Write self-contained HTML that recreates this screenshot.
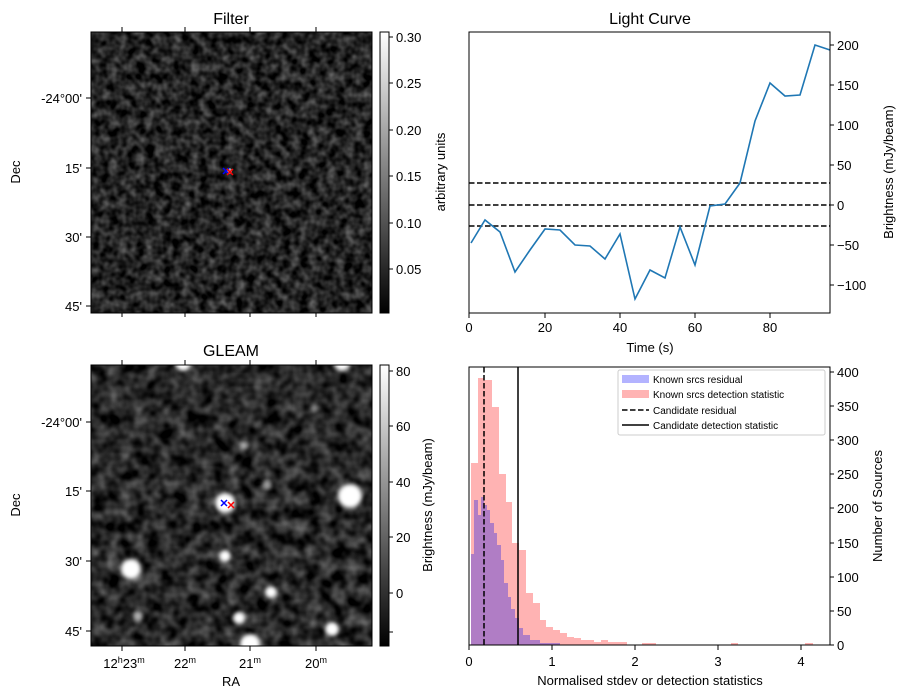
<!DOCTYPE html>
<html><head><meta charset="utf-8"><style>
html,body{margin:0;padding:0;background:#fff;width:907px;height:699px;overflow:hidden}
text{font-family:"Liberation Sans","DejaVu Sans",sans-serif;font-size:13px;fill:#000}
</style></head><body>
<svg width="907" height="699" viewBox="0 0 907 699" xmlns="http://www.w3.org/2000/svg">
<defs>
<filter id="noise1" x="0" y="0" width="100%" height="100%" color-interpolation-filters="sRGB">
<feTurbulence type="fractalNoise" baseFrequency="0.11" numOctaves="2" seed="3"/>
<feColorMatrix type="matrix" values="0.62 0 0 0 -0.17  0.62 0 0 0 -0.17  0.62 0 0 0 -0.17  0 0 0 0 1"/>
</filter>
<filter id="noise2" x="0" y="0" width="100%" height="100%" color-interpolation-filters="sRGB">
<feTurbulence type="fractalNoise" baseFrequency="0.075" numOctaves="2" seed="7"/>
<feColorMatrix type="matrix" values="0.65 0 0 0 -0.17  0.65 0 0 0 -0.17  0.65 0 0 0 -0.17  0 0 0 0 1"/>
</filter>
<filter id="blur"><feGaussianBlur stdDeviation="2"/></filter>
<linearGradient id="cb" x1="0" y1="1" x2="0" y2="0"><stop offset="0" stop-color="#000"/><stop offset="1" stop-color="#fff"/></linearGradient>
<clipPath id="c1"><rect x="91" y="32" width="281" height="281"/></clipPath>
<clipPath id="c2"><rect x="91" y="365" width="281" height="281"/></clipPath>
</defs>

<!-- Filter panel -->
<text x="231" y="24" text-anchor="middle" style="font-size:16px">Filter</text>
<g clip-path="url(#c1)">
<rect x="91" y="32" width="281" height="281" fill="#222"/>
<rect x="91" y="32" width="281" height="281" filter="url(#noise1)"/>
</g>
<rect x="91" y="32" width="281" height="281" fill="none" stroke="#000"/>
<circle cx="229" cy="171" r="3" fill="#aaa"/>
<g stroke-width="1.5"><path d="M223 168l6 6M229 168l-6 6" stroke="#00f"/><path d="M227 169l6 6M233 169l-6 6" stroke="#f00"/></g>
<g stroke="#000"><path d="M86 98h5M86 168h5M86 237h5M86 306h5M122 32v-5M185 32v-5M250 32v-5M316 32v-5M122 313v4M185 313v4M250 313v4M316 313v4"/></g>
<g text-anchor="end"><text x="82" y="103">-24°00'</text><text x="82" y="173">15'</text><text x="82" y="242">30'</text><text x="82" y="311">45'</text></g>
<text transform="translate(20,172) rotate(-90)" text-anchor="middle">Dec</text>
<rect x="380" y="32" width="9" height="281" fill="url(#cb)" stroke="#000"/>
<g stroke="#000"><path d="M389 37h4M389 83h4M389 130h4M389 176h4M389 223h4M389 269h4"/></g>
<g><text x="396" y="42">0.30</text><text x="396" y="88">0.25</text><text x="396" y="135">0.20</text><text x="396" y="181">0.15</text><text x="396" y="228">0.10</text><text x="396" y="274">0.05</text></g>
<text transform="translate(445,172) rotate(-90)" text-anchor="middle">arbitrary units</text>

<!-- GLEAM panel -->
<text x="231" y="356" text-anchor="middle" style="font-size:16px">GLEAM</text>
<g clip-path="url(#c2)">
<rect x="91" y="365" width="281" height="281" fill="#222"/>
<rect x="91" y="365" width="281" height="281" filter="url(#noise2)"/>
<g fill="#fff" filter="url(#blur)">
<circle cx="225" cy="503" r="10"/><circle cx="350" cy="496" r="12"/><circle cx="131" cy="569" r="10"/>
<circle cx="225" cy="556" r="6"/><circle cx="271" cy="592" r="6"/><circle cx="239" cy="618" r="6"/>
<circle cx="332" cy="629" r="7"/><circle cx="250" cy="644" r="10"/><circle cx="183" cy="363" r="8"/>
<circle cx="342" cy="363" r="8"/><circle cx="138" cy="617" r="5" opacity="0.6"/><circle cx="267" cy="485" r="5" opacity="0.6"/>
<circle cx="314" cy="408" r="4" opacity="0.5"/><circle cx="244" cy="446" r="4" opacity="0.5"/>
</g>
</g>
<rect x="91" y="365" width="281" height="281" fill="none" stroke="#000"/>
<g stroke-width="1.5"><path d="M221 500l6 6M227 500l-6 6" stroke="#00f"/><path d="M228 502l6 6M234 502l-6 6" stroke="#f00"/></g>
<g stroke="#000"><path d="M86 422h5M86 491h5M86 561h5M86 631h5M122 646v5M185 646v5M250 646v5M316 646v5M122 365v-5M185 365v-5M250 365v-5M316 365v-5"/></g>
<g text-anchor="end"><text x="82" y="427">-24°00'</text><text x="82" y="496">15'</text><text x="82" y="566">30'</text><text x="82" y="636">45'</text></g>
<text transform="translate(20,505) rotate(-90)" text-anchor="middle">Dec</text>
<g text-anchor="middle"><text x="124" y="668">12<tspan dy="-5" style="font-size:9px">h</tspan><tspan dy="5">23</tspan><tspan dy="-5" style="font-size:9px">m</tspan></text>
<text x="185" y="668">22<tspan dy="-5" style="font-size:9px">m</tspan></text><text x="250" y="668">21<tspan dy="-5" style="font-size:9px">m</tspan></text><text x="316" y="668">20<tspan dy="-5" style="font-size:9px">m</tspan></text></g>
<text x="231" y="686" text-anchor="middle">RA</text>
<rect x="380" y="365" width="9" height="281" fill="url(#cb)" stroke="#000"/>
<g stroke="#000"><path d="M389 371h4M389 426h4M389 482h4M389 537h4M389 593h4M389 632h4"/></g>
<g><text x="396" y="376">80</text><text x="396" y="431">60</text><text x="396" y="487">40</text><text x="396" y="542">20</text><text x="396" y="598">0</text></g>
<text transform="translate(432,505) rotate(-90)" text-anchor="middle">Brightness (mJy/beam)</text>

<!-- Light curve -->
<text x="650" y="24" text-anchor="middle" style="font-size:16px">Light Curve</text>
<g stroke="#000" stroke-width="1.5" stroke-dasharray="5.5,2.5"><path d="M469 183H830M469 205H830M469 226H830"/></g>
<polyline fill="none" stroke="#1f77b4" stroke-width="1.6" points="471,243 485,220 500,232 515,272 530,250 545,229 560,230 575,245 590,246 605,259 620,234 635,299 650,270 665,278 680,227 695,265 710,206 725,204 740,183 755,121 770,83 785,96 800,95 815,45 830,50"/>
<rect x="469" y="32" width="361" height="281" fill="none" stroke="#000"/>
<g stroke="#000"><path d="M469 313v5M545 313v5M620 313v5M695 313v5M770 313v5M830 45h4M830 85h4M830 125h4M830 165h4M830 205h4M830 245h4M830 285h4"/></g>
<g text-anchor="middle"><text x="469" y="332">0</text><text x="545" y="332">20</text><text x="620" y="332">40</text><text x="695" y="332">60</text><text x="770" y="332">80</text></g>
<text x="650" y="352" text-anchor="middle">Time (s)</text>
<g><text x="837" y="50">200</text><text x="837" y="90">150</text><text x="837" y="130">100</text><text x="837" y="170">50</text><text x="837" y="210">0</text><text x="837" y="250">−50</text><text x="837" y="290">−100</text></g>
<text transform="translate(893,172) rotate(-90)" text-anchor="middle">Brightness (mJy/beam)</text>

<!-- Histogram -->
<g fill="#ffb3b3">
<rect x="471" y="463" width="7" height="182"/><rect x="478" y="378" width="6" height="267"/><rect x="484" y="380" width="8" height="265"/>
<rect x="492" y="407" width="7" height="238"/><rect x="499" y="474" width="7" height="171"/><rect x="506" y="502" width="6" height="143"/>
<rect x="512" y="543" width="7" height="102"/><rect x="519" y="550" width="7" height="95"/><rect x="526" y="593" width="7" height="52"/>
<rect x="533" y="603" width="7" height="42"/><rect x="540" y="620" width="6" height="25"/><rect x="546" y="627" width="7" height="18"/>
<rect x="553" y="630" width="7" height="15"/><rect x="560" y="633" width="7" height="12"/><rect x="567" y="637" width="7" height="8"/>
<rect x="574" y="638" width="7" height="7"/><rect x="581" y="640" width="13" height="5"/><rect x="594" y="642" width="7" height="3"/>
<rect x="601" y="640" width="7" height="5"/><rect x="608" y="642" width="19" height="3"/><rect x="642" y="643" width="14" height="2"/>
<rect x="731" y="643" width="7" height="2"/><rect x="805" y="643" width="8" height="2"/>
</g>
<polygon fill="rgba(80,60,220,0.45)" points="471,645 471,554 474,554 474,500 478,500 478,515 481,515 481,497 484,497 484,505 487,505 487,510 490,510 490,523 494,523 494,533 497,533 497,545 501,545 501,560 504,560 504,583 508,583 508,597 511,597 511,609 515,609 515,618 519,618 519,628 523,628 523,635 530,635 530,640 540,640 540,643 560,643 560,645"/>
<g stroke="#000" stroke-width="1.5"><path d="M484 367V645" stroke-dasharray="5.5,2.5"/><path d="M518 367V645"/></g>
<rect x="469" y="367" width="361" height="278" fill="none" stroke="#000"/>
<rect x="618" y="370" width="207" height="65" fill="#fff" fill-opacity="0.8" stroke="#ccc" rx="2"/>
<rect x="622" y="375" width="27" height="8" fill="#b3b3ff"/><rect x="622" y="390" width="27" height="8" fill="#ffb3b3"/>
<path d="M622 410h27" stroke="#000" stroke-width="1.5" stroke-dasharray="5.5,2.5"/><path d="M622 425h27" stroke="#000" stroke-width="1.5"/>
<g><text x="653" y="383" style="font-size:10px">Known srcs residual</text><text x="653" y="398" style="font-size:10px">Known srcs detection statistic</text><text x="653" y="414" style="font-size:10px">Candidate residual</text><text x="653" y="429" style="font-size:10px">Candidate detection statistic</text></g>
<g stroke="#000"><path d="M469 645v5M552 645v5M635 645v5M718 645v5M801 645v5M830 645h4M830 611h4M830 577h4M830 543h4M830 508h4M830 474h4M830 440h4M830 406h4M830 372h4"/></g>
<g text-anchor="middle"><text x="469" y="666">0</text><text x="552" y="666">1</text><text x="635" y="666">2</text><text x="718" y="666">3</text><text x="801" y="666">4</text></g>
<text x="650" y="685" text-anchor="middle">Normalised stdev or detection statistics</text>
<g><text x="837" y="650">0</text><text x="837" y="616">50</text><text x="837" y="582">100</text><text x="837" y="548">150</text><text x="837" y="513">200</text><text x="837" y="479">250</text><text x="837" y="445">300</text><text x="837" y="411">350</text><text x="837" y="377">400</text></g>
<text transform="translate(882,506) rotate(-90)" text-anchor="middle">Number of Sources</text>
</svg>
</body></html>
